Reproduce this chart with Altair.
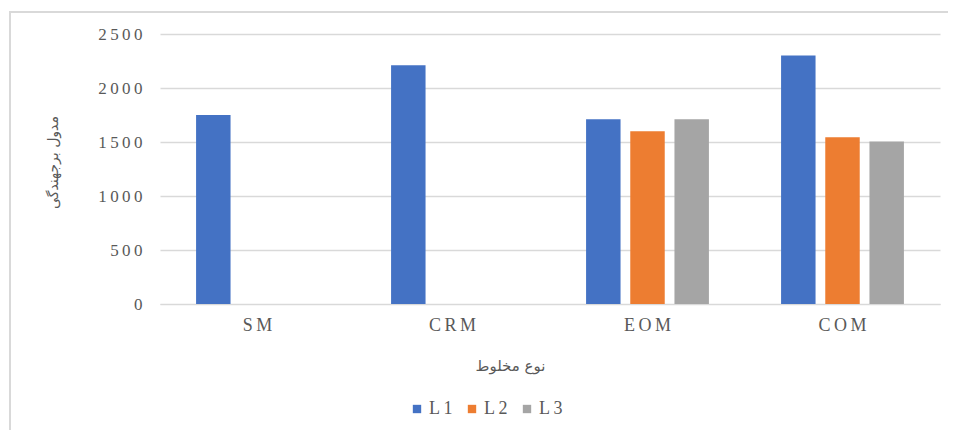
import altair as alt
import pandas as pd

categories = ["SM", "CRM", "EOM", "EOM", "EOM", "COM", "COM", "COM"]
series = ["L1", "L1", "L1", "L2", "L3", "L1", "L2", "L3"]
values = [1750, 2210, 1710, 1600, 1710, 2300, 1545, 1505]

cat_order = ["SM", "CRM", "EOM", "COM"]
ser_order = ["L1", "L2", "L3"]
colors = ["#4472C4", "#ED7D31", "#A5A5A5"]
y_ticks = [0, 500, 1000, 1500, 2000, 2500]

df = pd.DataFrame({"cat": categories, "series": series, "value": values})

spaced = "join(split(datum.label, ''), '\u2009')"
spaced_num = "join(split(toString(datum.value), ''), '\u2009')"

bars = alt.Chart(df).mark_bar().encode(
    x=alt.X("cat:N", sort=cat_order,
            scale=alt.Scale(domain=cat_order, paddingInner=0.37, paddingOuter=0.185),
            axis=alt.Axis(title="نوع مخلوط", labelAngle=0, ticks=False, domainColor="#d9d9d9",
                          labelExpr=spaced,
                          labelFont="Liberation Serif", labelFontSize=18, labelColor="#595959",
                          labelPadding=12, titleFont="DejaVu Sans", titleFontSize=15,
                          titleFontWeight="normal", titleColor="#595959",
                          titleX=350, titleY=54)),
    xOffset=alt.XOffset("series:N", scale=alt.Scale(domain=ser_order, paddingInner=0.22)),
    y=alt.Y("value:Q", scale=alt.Scale(domain=[0, 2500]),
            axis=alt.Axis(title="مدول برجهندگی", values=y_ticks,
                          labelExpr=spaced_num,
                          ticks=False, domain=False, gridColor="#d9d9d9", gridWidth=1.5,
                          labelFont="Liberation Serif", labelFontSize=17, labelColor="#595959",
                          labelPadding=18, titleFont="DejaVu Sans", titleFontSize=14,
                          titleFontWeight="normal", titleColor="#595959",
                          titleX=-100, titleY=128)),
    color=alt.Color("series:N", scale=alt.Scale(domain=ser_order, range=colors),
                    legend=alt.Legend(title=None, orient="none", direction="horizontal",
                                      legendX=248, legendY=366, symbolType="square",
                                      symbolSize=70, labelFont="Liberation Serif",
                                      labelExpr=spaced,
                                      labelFontSize=18, labelColor="#595959",
                                      columnPadding=10, labelOffset=3)),
)

frame = alt.Chart(pd.DataFrame({"a": [1]})).mark_rect(
    fill=None, stroke="#d9d9d9", strokeWidth=2, clip=False
).encode(x=alt.value(-150), x2=alt.value(800), y=alt.value(-22), y2=alt.value(410))

chart = alt.layer(frame, bars).properties(
    width=780, height=270,
    autosize=alt.AutoSizeParams(type="none"),
    padding={"left": 152, "top": 26, "right": 8, "bottom": 126},
).configure_view(stroke=None)

chart.save("out.html", embed_options={"renderer": "svg", "actions": False})
